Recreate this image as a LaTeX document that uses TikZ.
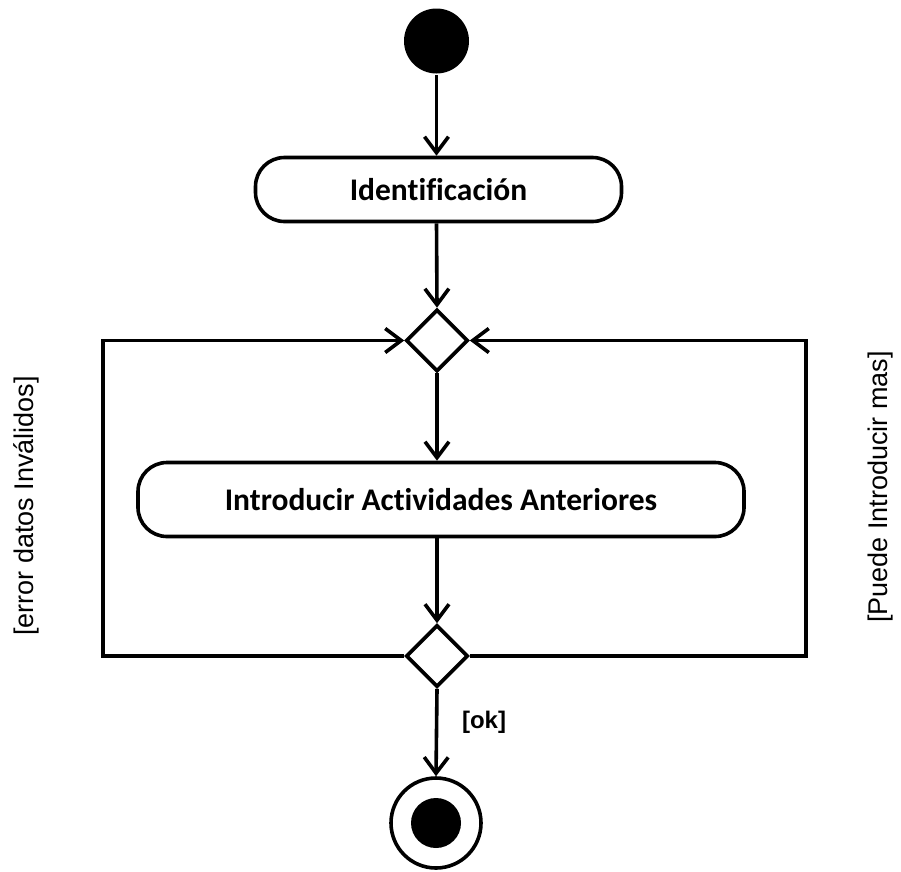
\documentclass[tikz,border=0pt]{standalone}
\usepackage{fontspec}
\setmainfont{Carlito}[Ligatures=NoCommon]
\newfontfamily\arialf{Liberation Sans}
\usetikzlibrary{shapes.geometric,arrows.meta}
\begin{document}
\begin{tikzpicture}[x=1pt,y=1pt,
  line width=3.6pt,
  flow/.style={-{Straight Barb[length=16pt,width=24pt,line width=3.6pt]}},
  actbox/.style={draw,rounded corners=29pt,inner sep=0pt,font=\fontsize{31.5}{36}\selectfont\bfseries},
  decision/.style={draw,diamond,aspect=1,inner sep=0pt,minimum width=62pt,minimum height=62pt},
  guard/.style={font=\arialf\fontsize{27}{32}\selectfont,inner sep=0pt},
]
\useasboundingbox (0,0) rectangle (901,-871);
\node[circle,fill=black,inner sep=0pt,minimum size=65pt] (start) at (436.5,-41) {};
\node[actbox,minimum width=366pt,minimum height=64pt] (ident) at (438.5,-189.5) {Identificación};
\node[decision] (d1) at (437,-340.5) {};
\node[actbox,minimum width=606pt,minimum height=74pt] (intro) at (441,-499.5) {Introducir Actividades Anteriores};
\node[decision] (d2) at (437,-656) {};
\node[circle,draw,inner sep=0pt,minimum size=90pt] (end) at (436,-823) {};
\node[circle,fill=black,inner sep=0pt,minimum size=50pt] (endin) at (end.center) {};

\coordinate (tl) at (103,-340.5);
\coordinate (bl) at (103,-656);
\coordinate (tr) at (806,-340.5);
\coordinate (br) at (806,-656);

\draw[flow] (start) -- (start |- ident.north);
\draw[flow] (start |- ident.south) -- (d1.north);
\draw[flow] (d1.south) -- (d1.south |- intro.north);
\draw[flow] (d1.south |- intro.south) -- (d2.north);
\draw[flow] (d2.south) -- (end.north);
\draw[flow, line join=miter] (d2.west) -- (bl) -- (tl) -- (d1.west);
\draw[flow, line join=miter] (d2.east) -- (br) -- (tr) -- (d1.east);

\node[guard,rotate=90] (lblerr) at (26,-506) {[error datos Inválidos]};
\node[guard,rotate=90] (lblmas) at (881,-487) {[Puede Introducir mas]};
\node[font=\arialf\bfseries\fontsize{24}{28}\selectfont,inner sep=0pt] (lblok) at (484,-722) {[ok]};
\end{tikzpicture}
\end{document}
